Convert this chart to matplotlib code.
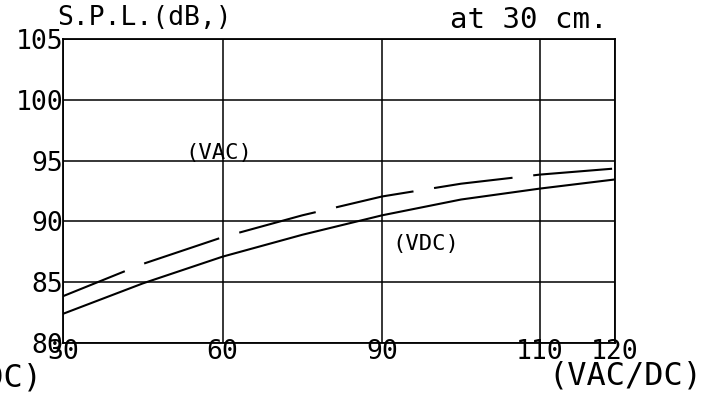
import numpy as np
from matplotlib import pyplot as plt

# supply voltage (V) and S.P.L.
volts = [30, 45, 60, 75, 90, 100, 110, 120]
spl_dc = [82.4, 84.9, 87.1, 88.9, 90.5, 91.8, 92.7, 93.45]
spl_ac = [83.85, 86.5, 88.7, 90.5, 92.05, 93.1, 93.85, 94.35]

xticks = [30, 60, 90, 110, 120]
yticks = [80, 85, 90, 95, 100, 105]

# the printed axis is not linear: 30/60/90 evenly spaced, 110 and 120 squeezed
tick_pos = [0.0, 1.0, 2.0, 2.99, 3.46]


def fwd(v):
    return np.interp(v, xticks, tick_pos)


def inv(p):
    return np.interp(p, tick_pos, xticks)


mono = 'DejaVu Sans Mono'
plt.rcParams['font.family'] = mono

fig = plt.figure(figsize=(7.18, 3.97), dpi=100)
ax = fig.add_axes([63 / 718, 54 / 397, 552 / 718, 304 / 397])
ax.set_xscale('function', functions=(fwd, inv))
ax.set_xlim(30, 120)
ax.set_ylim(80, 105)

ax.plot(volts, spl_dc, color='k', lw=1.5)
ax.plot(volts, spl_ac, color='k', lw=1.5, linestyle=(6, (38, 10)))

ax.set_xticks(xticks)
ax.set_yticks(yticks)
ax.grid(True, color='k', lw=1.1)
for s in ax.spines.values():
    s.set_linewidth(1.3)
ax.tick_params(length=0, labelsize=19, pad=0)
ax.tick_params(axis='x', pad=-3)

fig.text(57 / 718, 1 - 18 / 397, 'S.P.L.(dB,)', fontsize=19, va='center', ha='left')
fig.text(450 / 718, 1 - 20 / 397, 'at 30 cm.', fontsize=21, va='center', ha='left')
fig.text(185 / 718, 1 - 153 / 397, '(VAC)', fontsize=16, va='center', ha='left')
fig.text(392 / 718, 1 - 244 / 397, '(VDC)', fontsize=16, va='center', ha='left')
fig.text(702 / 718, 1 - 376 / 397, '(VAC/DC)', fontsize=23, va='center', ha='right')
fig.text(42 / 718, 1 - 378 / 397, '(VAC/DC)', fontsize=23, va='center', ha='right')

plt.savefig('out.png', dpi=100)
plt.close()
